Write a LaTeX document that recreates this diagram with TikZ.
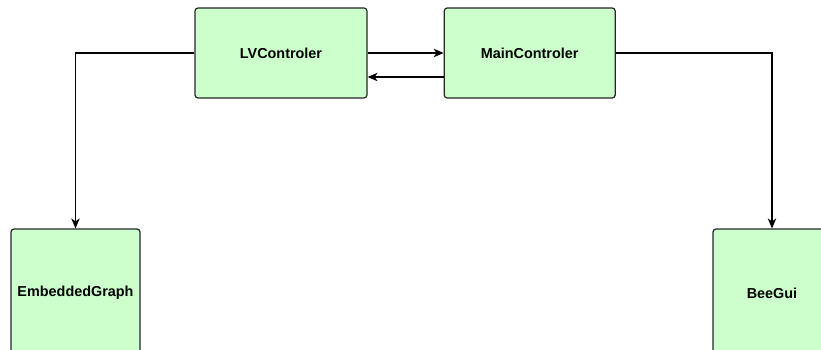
\documentclass[tikz,border=0pt]{standalone}
\usepackage{fontspec}
\setsansfont{Liberation Sans}
\usetikzlibrary{positioning,arrows.meta}
\tikzset{%
  every block/.style={
    rectangle,
    rounded corners=3pt,
    draw=black!85,
    line width=1.2pt,
    fill={rgb,255:red,204;green,255;blue,204},
    font=\sffamily\bfseries\fontsize{14.4}{17}\selectfont
  },
  flow/.style={
    line width=1.1pt,
    -{Stealth[length=10pt,width=8.5pt,inset=3pt]}
  },
}

\begin{document}
\begin{tikzpicture}[x=1pt,y=-1pt,node distance=76pt]
  \useasboundingbox (0,0) rectangle (821,350);
  \clip (0,0) rectangle (821,350);
  \node[every block,minimum width=172pt,minimum height=90pt] (lv) at (281,53) {LVControler};
  \node[every block,minimum width=171pt,minimum height=90pt] (main) [right=of lv] {MainControler};
  \node[every block,minimum width=129pt,minimum height=128pt] (graph) at (75.5,293) {EmbeddedGraph};
  \node[every block,minimum width=118pt,minimum height=128pt] (gui) at (772,293) {BeeGui};
  \path[flow]
    (lv.east) edge (main.west)
    ([yshift=-24pt]main.west) edge ([yshift=-24pt]lv.east);
  \draw[flow] (lv.west) -| (graph.north);
  \draw[flow] (main.east) -| (gui.north);
\end{tikzpicture}
\end{document}
